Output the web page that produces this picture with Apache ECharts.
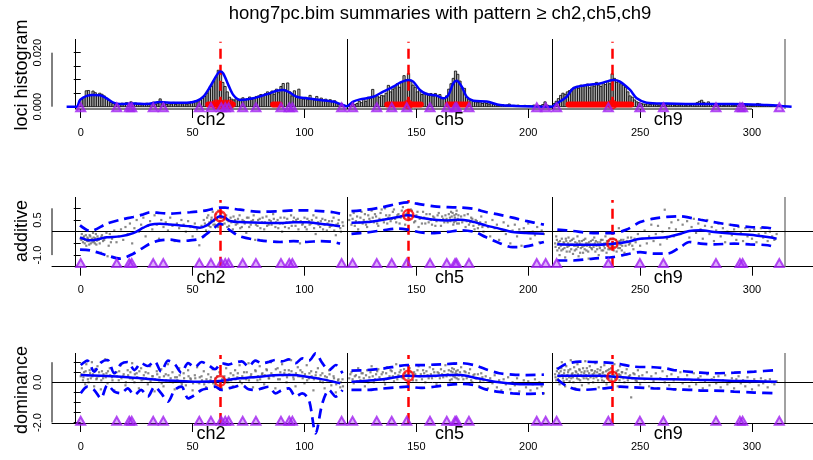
<!DOCTYPE html>
<html><head><meta charset="utf-8">
<script src="https://cdn.jsdelivr.net/npm/echarts@6/dist/echarts.min.js"></script>
<style>html,body{margin:0;padding:0;background:#fff}#c{width:813px;height:460px}</style>
</head><body><div id="c"></div>
<script>
// ---------------- data ----------------
const titleText = 'hong7pc.bim summaries with pattern \u2265 ch2,ch5,ch9';
const panelNames = ['loci histogram', 'additive', 'dominance'];
const xTicks = [0, 50, 100, 150, 200, 250, 300];
const chromNames = ['ch2', 'ch5', 'ch9'];
const chromMid = [58.2, 164.8, 262.6];
const chromBounds = [-2.5, 119.0, 210.6];
const chromEnd = 314.7;
const qtlPos = [62.3, 146.4, 237.6];
const markerPos = [0, 16.1, 21.7, 22.8, 32.4, 36.9, 53.0, 58.2, 62.8, 64.6, 66.1, 72.4, 78.3, 89.5, 93.2, 94.6, 116.6,
  121.5, 132.3, 139.0, 145.7, 156.1, 163.6, 167.3, 168.0, 173.5, 203.8, 207.8,
  212.7, 235.8, 249.9, 260.4, 283.9, 294.6, 295.8, 312.2];

// histogram: density (per mille) of 1 cM bins starting at histStart
const histStart = 0;
const histPermille = [
 2.8,3.5,5.9,6.0,4.5,5.8,5.2,4.4,5.0,4.6,
 4.0,3.2,2.4,1.6,1.2,0.8,1.0,0.9,1.3,0.8,
 1.5,1.1,1.8,0.9,1.4,1.0,1.2,0.7,1.0,1.3,
 0.8,1.1,1.7,0.9,1.2,2.9,1.0,1.5,0.8,1.2,
 1.0,1.6,0.9,1.3,1.1,0.7,1.4,1.0,1.2,1.8,
 1.5,2.2,1.8,2.5,3.2,3.8,5.0,6.5,7.5,9.5,
 11.0,13.5,12.8,9.0,7.5,5.5,3.5,2.8,2.5,3.0,
 2.2,2.8,3.3,2.5,3.0,3.6,2.7,3.2,3.8,4.0,
 4.5,4.2,4.8,5.5,4.5,5.8,4.6,6.5,5.2,7.5,
 8.6,6.2,8.8,5.5,4.0,5.9,3.8,6.5,3.2,2.8,
 3.5,2.6,4.2,3.0,2.5,3.8,2.2,3.2,2.4,2.8,
 2.0,2.6,1.8,2.2,1.4,1.0,1.2,0.6,0.3,0.4,
 1.0,1.4,0.8,1.2,2.0,1.5,2.8,2.0,3.5,3.0,
 6.4,3.8,4.0,3.5,4.2,4.0,5.0,7.9,5.5,6.5,
 7.0,8.5,7.2,9.0,11.5,10.0,12.3,9.5,8.0,7.2,
 5.5,6.0,4.5,4.8,5.0,4.2,4.9,4.0,4.9,3.8,
 4.5,3.2,3.0,4.0,6.5,8.5,10.5,13.2,12.0,9.5,
 7.0,6.8,3.5,3.0,2.5,2.0,1.8,1.5,1.8,1.2,
 1.5,1.2,1.0,1.4,0.8,1.0,0.6,0.5,0.8,0.4,
 0.6,1.0,0.4,0.5,0.3,0.6,0.4,0.2,0.5,0.3,
 0.4,0.3,0.6,0.2,0.5,0.4,0.8,1.8,0.6,0.3,
 0.2,1.2,2.0,3.0,4.2,5.0,4.6,5.5,6.0,6.5,
 7.2,7.5,6.8,8.0,7.5,7.8,8.4,7.0,8.2,7.6,
 9.0,8.0,7.5,8.8,8.2,9.3,8.5,12.2,10.5,9.0,
 9.5,8.5,8.0,7.2,5.5,4.0,3.5,2.5,1.8,1.5,
 1.2,1.0,0.9,1.2,0.8,1.0,0.7,0.9,0.6,1.0,
 0.8,0.6,1.0,0.7,0.9,0.5,0.8,0.6,0.7,0.9,
 0.6,0.8,0.5,1.0,1.2,1.5,2.0,2.4,1.6,1.2,
 1.8,0.9,1.0,0.7,0.8,0.6,0.9,0.5,0.7,0.6,
 0.8,0.6,0.5,1.2,1.0,1.3,0.7,0.5,0.6,0.4,
 0.5,0.8,1.2,1.0,0.6,0.4,0.5,0.6,0.3,0.5,
 0.4,0.6,0.3,0.2];

const densityCM = [-6.3,-1.8,-0.3,2.7,5.6,8.6,11.6,14.6,17.6,23.5,29.5,35.4,41.4,47.4,51.8,54.8,57.8,60.8,62.3,63.7,66,68.2,71.2,77.1,83.1,87.6,90.5,93.5,96.5,101,107,112.9,115.9,118.9,
  121.8,124.8,130.8,135.2,139.7,142.7,146.4,148.6,151.6,154.6,159.1,162,164.3,166.5,168,170.3,172.5,175.5,181.4,187.4,195,202.3,210.5,
  212.7,217.2,220.1,226.1,232.1,238,241,245.5,248.5,252.9,261.9,276.8,291.6,306.6,313,317.7];
const densityVal = [0,0,0.0025,0.004,0.0043,0.0042,0.0031,0.0015,0.001,0.0012,0.001,0.0017,0.0015,0.0015,0.0021,0.0037,0.0074,0.0117,0.013,0.0123,0.008,0.0043,0.0025,0.0031,0.0046,0.0059,0.0062,0.0052,0.0037,0.0031,0.0025,0.0019,0.001,0.0002,
  0.0019,0.0027,0.0037,0.0056,0.0074,0.0089,0.0099,0.0093,0.0062,0.0047,0.0041,0.0031,0.0043,0.0086,0.0096,0.0074,0.0037,0.0022,0.0019,0.0006,0.0003,0.0001,0,
  0.0012,0.0037,0.0068,0.008,0.0086,0.0099,0.0093,0.0062,0.0031,0.0015,0.0012,0.001,0.001,0.0006,0.0003,0];

const histRedRanges = [[57,68],[86,89],[137,152],[164,173],[218,246]];
const histRedCircles = [60.5, 62.3, 64.5, 66.5, 146.4, 237.6];

// additive effects
const addCh2CM = [-0.3,4.2,11.6,17.6,23.5,28,31,35.4,39.9,44.4,48.9,53.3,56.3,59.3,62.3,64.5,66.7,71.2,80.2,89.1,95.1,101,107,112.9,115.9];
const addCh2Mean = [-0.24,-0.37,-0.24,-0.2,-0.06,0.17,0.3,0.34,0.31,0.27,0.23,0.17,0.27,0.48,0.66,0.6,0.46,0.41,0.38,0.37,0.4,0.4,0.34,0.28,0.23];
const addCh2Upper = [0.27,0.03,0.34,0.51,0.63,0.74,0.83,0.80,0.77,0.80,0.83,0.87,0.91,0.98,1.03,1.03,1.0,0.94,0.85,0.88,0.91,0.91,0.88,0.83,0.77];
const addCh2Lower = [-0.77,-0.80,-1.01,-1.15,-0.94,-0.68,-0.51,-0.37,-0.34,-0.40,-0.37,-0.30,-0.09,0.13,0.34,0.23,0.06,-0.2,-0.37,-0.44,-0.40,-0.44,-0.40,-0.44,-0.51];
const addCh5CM = [121,128,135,142,146,152,158,164,170,176,181,187,193,199,207];
const addCh5Mean = [0.38,0.41,0.51,0.63,0.70,0.60,0.51,0.48,0.51,0.41,0.27,0.13,-0.01,-0.06,-0.09];
const addCh5Upper = [0.88,0.94,1.05,1.20,1.25,1.17,1.08,1.05,1.03,0.97,0.84,0.73,0.60,0.46,0.30];
const addCh5Lower = [-0.09,-0.03,0.06,0.13,0.09,-0.03,-0.06,-0.01,0.06,-0.01,-0.23,-0.48,-0.66,-0.63,-0.44];
const addCh9CM = [213,220,229,238,244,250,256,262,268,272,277,283,292,299,307,311];
const addCh9Mean = [-0.54,-0.56,-0.56,-0.51,-0.44,-0.30,-0.27,-0.23,-0.09,0.03,0.06,-0.01,-0.09,-0.13,-0.23,-0.30];
const addCh9Upper = [0.09,0.03,-0.06,-0.06,0.09,0.41,0.56,0.63,0.66,0.60,0.51,0.41,0.27,0.20,0.17,0.09];
const addCh9Lower = [-1.23,-1.23,-1.15,-1.08,-0.97,-0.87,-0.94,-0.94,-0.66,-0.44,-0.51,-0.54,-0.51,-0.54,-0.58,-0.68];
const addPeaks = [[62.3,0.66],[146.4,0.71],[237.6,-0.51]];
const addDots = [
[0,-0.3],[0.5,-0.1],[1,-0.45],[1.5,-0.2],[2,-0.35],[2.5,-0.6],[3,-0.25],[3.5,-0.4],[4,-0.15],[4.5,-0.5],[5,-0.3],[5.5,-0.05],[6,-0.42],[6.5,-0.28],[7,-0.55],[7.5,-0.2],[8,-0.35],[9,-0.9],[9.5,-0.15],[10,-0.4],[11,-0.25],[12,-1.05],[12.5,-0.6],[13,-0.1],[14,-0.3],[15,0.05],[16,-0.45],[17,-0.2],[18,0.1],[19,-0.35],[20,0.2],[21,-0.1],[22,0.35],[23,-0.5],[24,0.15],[25,0.5],[26,0.0],[27,0.3],[28,0.6],[29,-0.2],[30,0.25],[31,0.45],[32,0.1],[33,0.7],[34,0.3],[35,-0.3],[36,0.5],[37,0.2],[38,0.4],[39,0.05],[40,0.6],[41,0.25],[42,-0.4],[43,0.35],[44,0.15],[45,0.5],[46,0.3],[47,0.0],[48,0.45],[49,0.2],[50,-0.2],[51,0.35],[52,0.1],[53,-0.58],[54,0.25],[55,0.5],[56,0.05],[57,0.7],[57.5,0.4],[58,0.2],[58.5,0.6],[59,0.85],[59.5,0.45],[60,0.3],[60.5,0.75],[61,0.55],[61.5,0.9],[62,0.4],[62.5,0.65],[63,0.8],[63.5,0.3],[64,0.55],[65,0.7],[65.5,0.2],[66,0.45],[67,0.6],[68,0.1],[69,0.5],[70,0.35],[71,0.7],[72,0.2],[73,0.45],[74,-0.05],[75,0.6],[76,0.3],[77,0.5],[78,-0.35],[79,0.25],[80,0.55],[81,0.4],[82,0.1],[83,0.65],[84,0.3],[85,0.45],[86,0.75],[87,0.2],[88,0.5],[89,0.35],[90,0.0],[91,0.6],[92,0.4],[93,0.15],[94,0.7],[95,0.45],[96,0.25],[97,0.55],[98,-0.5],[99,0.3],[100,0.6],[101,0.1],[102,0.45],[103,0.35],[104,0.7],[105,-0.1],[106,0.4],[107,0.2],[108,0.55],[109,0.3],[110,0.05],[111,0.45],[112,0.25],[113,0.6],[114,-0.15],[115,0.35],[116,0.15],[117,0.4],
[120,0.5],[121,0.3],[122,0.8],[123,0.45],[124,0.1],[125,0.6],[126,0.35],[127,0.75],[128,0.2],[129,0.55],[130,0.9],[131,0.4],[132,0.65],[133,0.25],[134,0.8],[135,0.5],[136,1.0],[137,0.35],[138,0.7],[139,0.55],[140,0.95],[141,0.4],[142,0.75],[143,0.6],[144,1.05],[145,0.3],[146,0.8],[147,0.55],[148,0.9],[149,0.4],[150,0.7],[151,0.2],[152,0.6],[153,0.85],[154,0.35],[155,0.55],[156,0.75],[157,0.3],[158,0.6],[159,0.45],[160,0.8],[161,0.25],[162,0.55],[163,0.7],[164,0.4],[165,0.6],[165.5,0.85],[166,0.5],[166.5,0.3],[167,0.7],[167.5,0.45],[168,0.9],[168.5,0.55],[169,0.35],[170,0.65],[171,0.5],[172,0.2],[173,0.75],[174,0.4],[175,0.55],[176,0.1],[177,0.45],[178,0.3],[179,0.65],[180,0.0],[181,0.4],[182,0.2],[183,-0.2],[184,0.5],[185,0.15],[186,0.3],[187,-0.35],[188,0.1],[189,0.4],[190,-0.1],[191,0.25],[192,-0.5],[193,0.05],[194,0.3],[195,-0.2],[196,0.1],[197,-0.6],[198,0.15],[199,-0.05],[200,0.35],[201,-0.3],[202,0.0],[203,-0.15],[204,0.2],[205,-0.45],[206,0.05],[207,-0.1],
[212,-0.5],[212.5,-0.2],[213,-0.8],[213.5,-0.45],[214,-1.0],[214.5,-0.6],[215,-0.3],[215.5,-0.75],[216,-0.5],[216.5,-1.1],[217,-0.4],[217.5,-0.65],[218,-0.25],[218.5,-0.85],[219,-0.55],[219.5,-0.35],[220,-0.95],[220.5,-0.6],[221,-0.45],[221.5,-0.75],[222,-0.2],[222.5,-1.05],[223,-0.5],[223.5,-0.7],[224,-0.4],[224.5,-0.9],[225,-0.6],[225.5,-0.3],[226,-0.8],[226.5,-0.5],[227,-1.15],[227.5,-0.65],[228,-0.4],[228.5,-0.75],[229,-0.55],[229.5,-0.25],[230,-0.85],[230.5,-0.6],[231,-0.45],[231.5,-1.0],[232,-0.7],[232.5,-0.35],[233,-0.55],[233.5,-0.8],[234,-0.5],[234.5,-0.2],[235,-0.9],[235.5,-0.6],[236,-0.4],[236.5,-0.75],[237,-0.55],[237.5,-1.1],[238,-0.3],[238.5,-0.65],[239,-0.5],[239.5,-0.85],[240,-0.45],[240.5,0.15],[241,-0.7],[241.5,-0.35],[242,-0.6],[243,-0.9],[244,-0.4],[245,-0.55],[246,-0.25],[247,-0.75],[248,-0.45],[249,-0.1],[250,-0.6],[251,-0.3],[252,0.05],[253,-0.5],[254,-0.2],[255,0.3],[256,-0.4],[257,-0.1],[258,0.25],[259,-0.55],[260,0.0],[261,0.94],[262,-0.3],[263,0.15],[264,0.4],[265,-0.2],[266,0.1],[267,0.5],[268,-0.1],[269,0.3],[270,0.0],[271,0.45],[272,-0.25],[273,0.2],[274,0.55],[275,-0.05],[276,0.35],[277,0.1],[278,-0.3],[279,0.25],[280,0.5],[281,-0.1],[282,0.2],[283,-0.4],[284,0.05],[285,0.35],[286,-0.2],[287,0.15],[288,-0.45],[289,0.0],[290,0.3],[291,-0.15],[292,0.1],[293,-0.35],[294,0.2],[295,-0.05],[296,-0.4],[297,0.15],[298,-0.2],[299,0.05],[300,-0.3],[301,0.1],[302,-0.45],[303,-0.1],[304,0.15],[305,-0.25],[306,-0.05],[307,-0.4],[308,0.0],[309,-0.2],[310,-0.35],[311,-0.1]];
const addDotsDense = [
[0.3,-0.35],[1.2,-0.25],[1.8,-0.5],[2.3,-0.15],[2.8,-0.4],[3.3,-0.3],[3.8,-0.55],[4.3,-0.2],[4.8,-0.35],[5.3,-0.45],[5.8,-0.25],[6.3,-0.5],[6.8,-0.1],[7.3,-0.38],[7.8,-0.3],[8.5,-0.5],[9.2,-0.22],[10.5,-0.35],[11.5,-0.05],[13.5,-0.45],
[55.5,0.35],[56.5,0.6],[57.3,0.25],[58.3,0.5],[59.3,0.3],[60.3,0.55],[61.3,0.2],[62.3,0.45],[63.3,0.6],[64.3,0.35],[65.3,0.5],[66.3,0.25],[67.3,0.4],[68.3,0.65],[69.3,0.3],[70.3,0.55],[71.3,0.15],[72.3,0.5],[73.3,0.35],[74.3,0.6],[75.3,0.2],[76.3,0.45],[77.3,0.7],[78.3,0.3],[79.3,0.5],[80.3,0.15],[81.3,0.6],[82.3,0.4],[83.3,0.25],[84.3,0.5],[85.3,0.3],[86.3,0.55],[87.3,0.4],[88.3,0.15],[89.3,0.6],[90.3,0.35],[91.3,0.2],[92.3,0.55],[93.3,0.4],[94.3,0.25],[95.3,0.6],[96.3,0.5],[97.3,0.1],[98.3,0.45],[99.3,0.35],[100.3,0.2],[101.3,0.55],[102.3,0.3],[103.3,0.5],[104.3,0.15],[105.3,0.6],[106.3,0.3],[107.3,0.45],[108.3,0.1],[109.3,0.5],[110.3,0.35],[111.3,0.2],[112.3,0.45],[113.3,0.05],[114.3,0.3],[115.3,0.5],[116.3,0.0],[117.3,0.25],
[120.5,0.7],[121.5,0.55],[122.5,0.25],[123.5,0.65],[124.5,0.4],[125.5,0.85],[126.5,0.5],[127.5,0.3],[128.5,0.7],[129.5,0.45],[130.5,0.6],[131.5,0.75],[132.5,0.35],[133.5,0.55],[134.5,0.95],[135.5,0.4],[136.5,0.7],[137.5,0.6],[138.5,0.45],[139.5,0.85],[140.5,0.55],[141.5,0.7],[142.5,0.35],[143.5,0.9],[144.5,0.6],[145.5,0.75],[146.5,0.5],[147.5,0.95],[148.5,0.65],[149.5,0.45],[150.5,0.85],[151.5,0.55],[152.5,0.35],[153.5,0.6],[154.5,0.75],[155.5,0.4],[156.5,0.5],[157.5,0.65],[158.5,0.25],[159.5,0.7],[160.5,0.5],[161.5,0.65],[162.5,0.4],[163.5,0.55],[164.5,0.75],[165.2,0.45],[165.8,0.65],[166.2,0.8],[166.8,0.4],[167.2,0.6],[167.8,0.75],[168.2,0.35],[168.8,0.7],[169.5,0.5],[170.5,0.4],[171.5,0.7],[172.5,0.45],[173.5,0.3],[174.5,0.6],[175.5,0.25],[176.5,0.5],[177.5,0.15],[178.5,0.4],[179.5,0.2],
[212.2,-0.65],[212.8,-0.35],[213.2,-0.55],[213.8,-0.7],[214.2,-0.4],[214.8,-0.8],[215.2,-0.55],[215.8,-0.45],[216.2,-0.7],[216.8,-0.3],[217.2,-0.85],[217.8,-0.5],[218.2,-0.6],[218.8,-0.4],[219.2,-0.75],[219.8,-0.55],[220.2,-0.3],[220.8,-0.8],[221.2,-0.6],[221.8,-0.5],[222.2,-0.65],[222.8,-0.4],[223.2,-0.9],[223.8,-0.55],[224.2,-0.65],[224.8,-0.35],[225.2,-0.75],[225.8,-0.5],[226.2,-0.6],[226.8,-0.85],[227.2,-0.45],[227.8,-0.55],[228.2,-0.7],[228.8,-0.35],[229.2,-0.65],[229.8,-0.5],[230.2,-0.4],[230.8,-0.75],[231.2,-0.55],[231.8,-0.6],[232.2,-0.45],[232.8,-0.8],[233.2,-0.35],[233.8,-0.6],[234.2,-0.7],[234.8,-0.5],[235.2,-0.4],[235.8,-0.75],[236.2,-0.55],[236.8,-0.3],[237.2,-0.65],[237.8,-0.45],[238.2,-0.8],[238.8,-0.5],[239.2,-0.35],[239.8,-0.6],[240.2,-0.7],[240.8,-0.4],[241.2,-0.55],[241.8,-0.8],[242.5,-0.35],[243.5,-0.6],[244.5,-0.25],[245.5,-0.5],[246.5,-0.6],[247.5,-0.3]];

// dominance effects
const domCh2CM = [0,9,18,27,35,44,53,62,71,80,89,95,101,107,113,116];
const domCh2Mean = [0.36,0.33,0.28,0.20,0.12,0.07,0.03,0.07,0.20,0.28,0.36,0.36,0.28,0.17,0.03,-0.05];
const domCh2BandCM = [0,3,6,9,12,15,18,21,24,27,30,33,36,39,42,45,48,51,54,57,60,63,66,69,72,75,78,81,84,87,90,93,96,99,102,105,108,111,114,117];
const domCh2Upper = [0.86,1.08,0.53,0.98,1.11,0.45,0.91,1.01,0.61,0.95,0.81,1.04,0.53,1.08,0.91,0.48,0.95,0.75,1.01,0.86,0.65,0.95,0.88,0.98,1.04,0.78,1.08,0.95,1.01,1.11,1.04,1.14,0.95,1.19,1.08,1.44,0.95,0.61,0.86,0.45];
const domCh2Lower = [-0.55,-0.22,-0.38,-0.80,-0.13,-0.46,-0.55,-0.30,-0.63,-0.38,-0.71,-0.22,-0.55,-0.96,-0.38,-0.22,-0.80,-0.63,-0.38,-0.30,-0.22,-0.38,-0.30,-0.22,-0.13,-0.35,-0.38,-0.30,-0.22,-0.55,-0.38,-0.30,-0.71,-0.55,-0.88,-2.54,-1.04,-0.38,-0.71,-0.38];
const domCh5CM = [121,128,135,142,146,152,158,164,170,176,181,187,193,199,207];
const domCh5Mean = [0.03,0.08,0.15,0.28,0.32,0.30,0.32,0.36,0.36,0.23,0.12,0.0,-0.07,-0.10,-0.10];
const domCh5Upper = [0.58,0.61,0.68,0.81,0.86,0.85,0.88,0.91,0.95,0.85,0.65,0.45,0.38,0.36,0.38];
const domCh5Lower = [-0.38,-0.38,-0.31,-0.25,-0.22,-0.28,-0.22,-0.13,-0.08,-0.15,-0.35,-0.48,-0.55,-0.58,-0.55];
const domCh9CM = [213,217,223,232,238,241,247,256,262,265,274,277,283,292,301,311];
const domCh9Mean = [0.32,0.32,0.32,0.32,0.28,0.27,0.20,0.17,0.15,0.15,0.13,0.12,0.10,0.07,0.05,0.03];
const domCh9Upper = [0.65,0.91,1.03,1.00,0.95,0.91,0.78,0.75,0.68,0.61,0.50,0.48,0.45,0.48,0.53,0.61];
const domCh9Lower = [0.15,-0.18,-0.38,-0.32,-0.25,-0.22,-0.25,-0.30,-0.32,-0.35,-0.38,-0.41,-0.41,-0.46,-0.51,-0.55];
const domPeaks = [[62.3,0.07],[146.4,0.32],[237.6,0.28]];
const domDots = [
[0,0.3],[0.5,0.7],[1,0.1],[1.5,0.5],[2,-0.1],[2.5,0.9],[3,0.35],[3.5,0.0],[4,0.6],[4.5,0.2],[5,1.0],[5.5,0.4],[6,-0.2],[6.5,0.65],[7,0.15],[7.5,0.8],[8,0.3],[9,-0.35],[9.5,0.55],[10,0.2],[11,1.15],[11.5,0.45],[12,-0.05],[13,0.7],[14,0.25],[15,-0.4],[16,0.5],[17,0.1],[18,0.85],[19,0.3],[20,-0.15],[21,0.6],[22,0.2],[23,0.95],[24,0.0],[25,0.45],[26,-0.3],[27,0.7],[28,0.15],[29,0.5],[30,-0.1],[31,0.8],[32,0.3],[33,-0.45],[34,0.55],[35,0.1],[36,0.65],[37,-0.2],[38,0.4],[39,0.9],[40,0.05],[41,0.5],[42,-0.35],[43,0.25],[44,0.7],[45,0.0],[46,0.45],[47,-0.15],[48,0.6],[49,0.2],[50,-0.4],[51,0.35],[52,0.75],[53,-0.05],[54,0.3],[55,0.55],[56,-0.25],[57,0.4],[58,0.1],[59,0.65],[60,-0.1],[61,0.3],[62,0.5],[63,-0.3],[64,0.2],[65,0.7],[66,0.0],[67,0.45],[68,-0.2],[69,0.6],[70,0.25],[71,0.85],[72,-0.05],[73,0.5],[74,0.15],[75,0.95],[76,0.3],[77,-0.25],[78,0.6],[79,0.1],[80,0.8],[81,0.4],[82,-0.1],[83,0.65],[84,0.2],[85,1.0],[86,0.35],[87,-0.3],[88,0.7],[89,0.15],[90,0.9],[91,0.45],[92,0.0],[93,0.6],[94,1.1],[95,0.25],[96,-0.2],[97,0.75],[98,0.3],[99,0.5],[100,-0.05],[101,0.85],[102,0.2],[103,0.55],[104,-0.4],[105,0.35],[106,0.7],[107,0.05],[108,0.45],[109,-0.3],[110,0.25],[111,0.6],[112,-0.15],[113,0.3],[114,-0.5],[115,0.1],[116,-0.25],[117,0.15],
[120,0.2],[121,0.5],[122,-0.05],[123,0.35],[124,0.7],[125,0.1],[126,0.45],[127,-0.2],[128,0.6],[129,0.25],[130,0.8],[131,0.0],[132,0.4],[133,0.65],[134,0.15],[135,0.5],[136,-0.1],[137,0.75],[138,0.3],[139,0.55],[140,0.05],[141,0.9],[142,0.35],[143,0.6],[144,0.2],[145,0.45],[146,-0.05],[147,0.7],[148,0.3],[149,0.5],[150,0.1],[151,0.8],[152,0.4],[153,0.6],[154,0.0],[155,0.35],[156,0.75],[157,0.2],[158,0.5],[159,-0.1],[160,0.45],[161,0.65],[162,0.25],[163,0.85],[164,0.4],[165,0.1],[165.5,0.55],[166,0.7],[166.5,0.3],[167,0.95],[167.5,0.45],[168,0.2],[168.5,0.6],[169,0.35],[170,0.75],[171,0.15],[172,0.5],[173,0.3],[174,0.65],[175,0.0],[176,0.4],[177,0.2],[178,-0.2],[179,0.45],[180,0.1],[181,0.3],[182,-0.3],[183,0.2],[184,-0.05],[185,0.35],[186,-0.25],[187,0.1],[188,-0.4],[189,0.15],[190,-0.1],[191,0.25],[192,-0.35],[193,0.0],[194,-0.15],[195,0.2],[196,-0.45],[197,-0.05],[198,0.1],[199,-0.25],[200,0.05],[201,-0.4],[202,-0.1],[203,0.15],[204,-0.3],[205,0.0],[206,-0.2],[207,-0.55],
[212,0.4],[212.5,0.1],[213,0.7],[213.5,0.3],[214,-0.1],[214.5,0.55],[215,1.0],[215.5,0.2],[216,0.45],[216.5,-0.2],[217,0.8],[217.5,0.35],[218,0.6],[218.5,0.05],[219,1.1],[219.5,0.4],[220,0.25],[220.5,0.75],[221,-0.3],[221.5,0.5],[222,0.9],[222.5,0.15],[223,0.6],[223.5,0.35],[224,-0.15],[224.5,0.7],[225,0.45],[225.5,1.05],[226,0.2],[226.5,0.55],[227,-0.05],[227.5,0.8],[228,0.3],[228.5,0.6],[229,0.0],[229.5,0.45],[230,0.95],[230.5,0.25],[231,0.65],[231.5,-0.25],[232,0.4],[232.5,0.75],[233,0.1],[233.5,0.5],[234,0.85],[234.5,0.3],[235,-0.1],[235.5,0.6],[236,0.2],[236.5,0.45],[237,0.7],[237.5,0.05],[238,0.35],[238.5,0.9],[239,0.15],[239.5,0.55],[240,-0.2],[240.5,0.4],[241,0.8],[241.5,0.25],[242,0.5],[243,0.0],[244,0.65],[245,0.3],[246,-0.75],[247,0.45],[248,0.1],[249,0.6],[250,-0.1],[251,0.35],[252,0.15],[253,0.5],[254,-0.2],[255,0.3],[256,0.05],[257,0.45],[258,-0.3],[259,0.2],[260,0.55],[261,0.0],[262,0.3],[263,-0.15],[264,0.4],[265,0.1],[266,-0.35],[267,0.25],[268,0.5],[269,-0.05],[270,0.15],[271,0.35],[272,-0.2],[273,0.1],[274,0.45],[275,-0.1],[276,0.2],[277,0.3],[278,-0.3],[279,0.05],[280,0.4],[281,-0.15],[282,0.15],[283,0.25],[284,-0.05],[285,0.3],[286,-0.25],[287,0.1],[288,0.35],[289,-0.1],[290,0.0],[291,0.2],[292,-0.3],[293,0.15],[294,0.3],[295,-0.05],[296,0.1],[297,-0.2],[298,0.25],[299,0.0],[300,-0.35],[301,0.15],[302,0.05],[303,-0.15],[304,0.2],[305,-0.05],[306,0.1],[307,-0.25],[308,0.15],[309,0.0],[310,-0.1],[311,0.05]];
const domDotsDense = [
[0.3,0.4],[1.2,0.25],[2.2,0.55],[3.2,0.15],[4.2,0.45],[5.2,0.3],[6.2,0.6],[7.2,0.2],[8.2,0.5],[9.2,0.1],[10.2,0.4],[11.2,0.25],[12.2,0.55],[13.2,0.35],[14.2,0.1],[15.2,0.45],[16.2,0.3],[17.2,0.55],[18.2,0.2],[19.2,0.4],[20.2,0.0],[21.2,0.35],[22.2,0.5],[23.2,0.15],[24.2,0.4],[25.2,0.25],[26.2,0.55],[27.2,0.1],[28.2,0.35],[29.2,0.2],[30.2,0.45],[31.2,0.05],[32.2,0.3],[33.2,0.15],[34.2,0.4],[35.2,0.25],[36.2,-0.05],[37.2,0.3],[38.2,0.1],[39.2,0.35],[40.2,0.2],[41.2,0.0],[42.2,0.25],[43.2,0.1],[44.2,0.35],[45.2,-0.1],[46.2,0.2],[47.2,0.05],[48.2,0.3],[49.2,0.15],[50.2,-0.05],[51.2,0.2],[52.2,0.0],[53.2,0.25],[54.2,0.1],[55.2,-0.1],[56.2,0.15],[57.2,0.0],[58.2,0.25],[59.2,-0.05],[60.2,0.2],[61.2,0.05],[62.2,-0.1],[63.2,0.15],[64.2,0.3],[65.2,0.0],[66.2,0.2],[67.2,0.1],[68.2,0.35],[69.2,0.15],[70.2,0.45],[71.2,0.05],[72.2,0.3],[73.2,0.2],[74.2,0.5],[75.2,0.1],[76.2,0.4],[77.2,0.25],[78.2,0.55],[79.2,0.3],[80.2,0.15],[81.2,0.45],[82.2,0.35],[83.2,0.6],[84.2,0.2],[85.2,0.45],[86.2,0.3],[87.2,0.65],[88.2,0.15],[89.2,0.5],[90.2,0.35],[91.2,0.6],[92.2,0.25],[93.2,0.4],[94.2,0.55],[95.2,0.15],[96.2,0.45],[97.2,0.3],[98.2,0.6],[99.2,0.2],[100.2,0.4],[101.2,0.1],[102.2,0.45],[103.2,0.3],[104.2,0.15],[105.2,0.5],[106.2,0.2],[107.2,0.35],[108.2,0.0],[109.2,0.3],[110.2,0.1],[111.2,0.4],[112.2,0.05],[113.2,0.2],[114.2,-0.1],[115.2,0.15],[116.2,0.0],[117.2,-0.2],
[120.5,0.4],[121.5,0.15],[122.5,0.3],[123.5,0.05],[124.5,0.25],[125.5,0.45],[126.5,0.2],[127.5,0.35],[128.5,0.0],[129.5,0.5],[130.5,0.3],[131.5,0.15],[132.5,0.55],[133.5,0.25],[134.5,0.4],[135.5,0.1],[136.5,0.45],[137.5,0.2],[138.5,0.6],[139.5,0.3],[140.5,0.45],[141.5,0.15],[142.5,0.5],[143.5,0.25],[144.5,0.65],[145.5,0.35],[146.5,0.2],[147.5,0.5],[148.5,0.1],[149.5,0.4],[150.5,0.6],[151.5,0.3],[152.5,0.15],[153.5,0.45],[154.5,0.55],[155.5,0.2],[156.5,0.4],[157.5,0.65],[158.5,0.3],[159.5,0.5],[160.5,0.2],[161.5,0.4],[162.5,0.55],[163.5,0.3],[164.5,0.6],[165.2,0.35],[165.8,0.15],[166.2,0.5],[166.8,0.65],[167.2,0.25],[167.8,0.55],[168.2,0.4],[168.8,0.15],[169.5,0.5],[170.5,0.3],[171.5,0.55],[172.5,0.2],[173.5,0.45],[174.5,0.1],[175.5,0.35],[176.5,0.2],[177.5,0.4],[178.5,0.05],[179.5,0.25],
[212.2,0.25],[212.8,0.55],[213.2,0.15],[213.8,0.45],[214.2,0.3],[214.8,0.7],[215.2,0.35],[215.8,0.05],[216.2,0.6],[216.8,0.3],[217.2,0.15],[217.8,0.5],[218.2,0.25],[218.8,0.65],[219.2,0.2],[219.8,0.45],[220.2,0.0],[220.8,0.35],[221.2,0.55],[221.8,0.2],[222.2,0.4],[222.8,0.65],[223.2,0.1],[223.8,0.5],[224.2,0.3],[224.8,0.2],[225.2,0.55],[225.8,0.35],[226.2,0.7],[226.8,0.15],[227.2,0.45],[227.8,0.25],[228.2,0.6],[228.8,0.4],[229.2,0.2],[229.8,0.55],[230.2,0.3],[230.8,0.5],[231.2,0.1],[231.8,0.4],[232.2,0.6],[232.8,0.25],[233.2,0.45],[233.8,0.05],[234.2,0.35],[234.8,0.55],[235.2,0.2],[235.8,0.4],[236.2,0.65],[236.8,0.3],[237.2,0.15],[237.8,0.5],[238.2,0.35],[238.8,0.2],[239.2,0.45],[239.8,0.3],[240.2,0.6],[240.8,0.1],[241.2,0.35],[241.8,0.5],[242.5,0.2],[243.5,0.45],[244.5,0.1],[245.5,0.35],[246.5,0.2],[247.5,0.4],[248.5,0.05],[249.5,0.3]];

// y axes: ticks and shown labels
const histYTicks = [0, 0.005, 0.01, 0.015, 0.02];
const histYLabels = [[0, '0.000'], [0.02, '0.020']];
const addYTicks = [-1, -0.5, 0, 0.5, 1];
const addYLabels = [[-1, '-1.0'], [0.5, '0.5']];
const domYTicks = [-2, -1.5, -1, -0.5, 0, 0.5, 1];
const domYLabels = [[-2, '-2.0'], [0, '0.0']];

// ---------------- layout / style ----------------
const FONT = '"Liberation Sans", Arial, Helvetica, sans-serif';
const X_MIN = -12.83, X_MAX = 327.26;
const BLUE = '#0000FF', RED = '#FF0000', PURPLE = '#A020F0', DOT = '#6a6a6a';
const panels = [
  {top: 39, height: 70, yMin: -0.000852, yMax: 0.025074, ticks: histYTicks, labels: histYLabels, markerY: -0.0002, qtlTop: 0.02407, qtlBot: 0},
  {top: 197, height: 69.7, yMin: -1.496, yMax: 1.483, ticks: addYTicks, labels: addYLabels, markerY: -1.34, qtlTop: 1.355, qtlBot: -1.496},
  {top: 353, height: 70, yMin: -2.025, yMax: 1.458, ticks: domYTicks, labels: domYLabels, markerY: -1.92, qtlTop: 1.36, qtlBot: -2.025}
];
const pairs = (xs, ys) => xs.map((x, i) => [x, ys[i]]);

const chart = echarts.init(document.getElementById('c'), null, {renderer: 'canvas', width: 813, height: 460});

const grid = panels.map(p => ({left: 52, right: 0, top: p.top, height: p.height}));
const xAxis = panels.map((p, i) => ({
  type: 'value', gridIndex: i, min: X_MIN, max: X_MAX,
  axisLine: {show: i > 0, onZero: false, lineStyle: {color: '#000', width: 1}},
  axisTick: {show: true, customValues: xTicks, length: 9, lineStyle: {color: '#000', width: 1}},
  axisLabel: {show: true, customValues: xTicks, color: '#000', fontSize: 11, fontFamily: FONT, margin: 18},
  splitLine: {show: false}
}));
const yAxis = panels.map((p, i) => ({
  type: 'value', gridIndex: i, min: p.yMin, max: p.yMax,
  axisLine: {show: false},
  axisTick: {show: true, customValues: p.ticks, length: 7, lineStyle: {color: '#000', width: 1}},
  axisLabel: {show: false},
  splitLine: {show: false}
}));

const series = [];
function line(i, data, style, extra) {
  series.push(Object.assign({type: 'line', xAxisIndex: i, yAxisIndex: i, data: data, showSymbol: false, symbol: 'none',
    lineStyle: style, silent: true, z: 4}, extra || {}));
}

// histogram bars
series.push({
  type: 'custom', xAxisIndex: 0, yAxisIndex: 0, z: 2, silent: true,
  data: histPermille.map((h, k) => [histStart + k, h / 1000]),
  renderItem: function (params, api) {
    const x0 = api.value(0), v = api.value(1);
    const p0 = api.coord([x0, 0]), p1 = api.coord([x0 + 1, v]);
    return {type: 'rect', shape: {x: p0[0], y: p1[1], width: p1[0] - p0[0], height: p0[1] - p1[1]},
      style: {fill: '#b4b4b4', stroke: '#000000', lineWidth: 0.8}};
  }
});
// density curve
line(0, pairs(densityCM, densityVal), {color: BLUE, width: 2.5}, {smooth: 0.3, z: 5});
// red loci bands
histRedRanges.forEach(r => line(0, [[r[0], 0.0008], [r[1], 0.0008]], {color: RED, width: 6, cap: 'round'}, {z: 6}));
series.push({type: 'scatter', xAxisIndex: 0, yAxisIndex: 0, z: 7, silent: true, symbol: 'circle', symbolSize: 8,
  data: histRedCircles.map(x => [x, 0.0008]),
  itemStyle: {color: 'rgba(0,0,0,0)', borderColor: RED, borderWidth: 2}});
// histogram x axis line
line(0, [[chromBounds[0], panels[0].yMin], [300, panels[0].yMin]], {color: '#000', width: 1}, {clip: false});

// effect panels
const effects = [
  {i: 1, dots: addDots.concat(addDotsDense), peaks: addPeaks, chr: [
    [addCh2CM, addCh2Mean, addCh2CM, addCh2Upper, addCh2Lower],
    [addCh5CM, addCh5Mean, addCh5CM, addCh5Upper, addCh5Lower],
    [addCh9CM, addCh9Mean, addCh9CM, addCh9Upper, addCh9Lower]]},
  {i: 2, dots: domDots.concat(domDotsDense), peaks: domPeaks, chr: [
    [domCh2CM, domCh2Mean, domCh2BandCM, domCh2Upper, domCh2Lower],
    [domCh5CM, domCh5Mean, domCh5CM, domCh5Upper, domCh5Lower],
    [domCh9CM, domCh9Mean, domCh9CM, domCh9Upper, domCh9Lower]]}
];
effects.forEach(e => {
  series.push({type: 'scatter', xAxisIndex: e.i, yAxisIndex: e.i, z: 2, silent: true, symbol: 'rect', symbolSize: 2.2,
    data: e.dots, itemStyle: {color: DOT}});
  e.chr.forEach(c => {
    line(e.i, pairs(c[0], c[1]), {color: BLUE, width: 2.5}, {smooth: 0.3, z: 5});
    line(e.i, pairs(c[2], c[3]), {color: BLUE, width: 2.7, type: [10, 6]}, {smooth: 0.3, z: 5, clip: false});
    line(e.i, pairs(c[2], c[4]), {color: BLUE, width: 2.7, type: [10, 6]}, {smooth: 0.3, z: 5, clip: false});
  });
  series.push({type: 'scatter', xAxisIndex: e.i, yAxisIndex: e.i, z: 8, silent: true, symbol: 'circle', symbolSize: 10,
    data: e.peaks, itemStyle: {color: 'rgba(0,0,0,0)', borderColor: RED, borderWidth: 2.5}});
});

panels.forEach((p, i) => {
  // markers (purple triangles)
  series.push({type: 'scatter', xAxisIndex: i, yAxisIndex: i, z: 7, silent: true, symbol: 'triangle', symbolSize: [9, 8],
    data: markerPos.map(x => [x, p.markerY]),
    itemStyle: {color: 'rgba(160,32,240,0.45)', borderColor: PURPLE, borderWidth: 2}});
  // y axis line (from first to last tick)
  line(i, [[X_MIN, p.ticks[0]], [X_MIN, p.ticks[p.ticks.length - 1]]], {color: '#000', width: 1}, {clip: false});
  // chromosome boundaries, qtl lines, zero line
  const ml = chromBounds.map(x => ({xAxis: x, lineStyle: {color: '#000', width: 1, type: 'solid'}}));
  ml.push({xAxis: chromEnd, lineStyle: {color: '#8a8a8a', width: 1.6, type: 'solid'}});
  if (i > 0) ml.push({yAxis: 0, lineStyle: {color: '#000', width: 1, type: 'solid'}});
  qtlPos.forEach(x => ml.push([{coord: [x, p.qtlBot], lineStyle: {color: RED, width: 2.5, type: [10, 6]}}, {coord: [x, p.qtlTop]}]));
  series.push({type: 'line', xAxisIndex: i, yAxisIndex: i, z: 6, silent: true, data: [[X_MIN, 0]], showSymbol: false,
    lineStyle: {opacity: 0}, markLine: {silent: true, symbol: ['none', 'none'], label: {show: false}, animation: false, data: ml}});
  // y tick labels
  series.push({type: 'custom', xAxisIndex: i, yAxisIndex: i, z: 9, silent: true, clip: false,
    data: p.labels.map(l => [X_MIN, l[0]]),
    renderItem: function (params, api) {
      const pt = api.coord([api.value(0), api.value(1)]);
      return {type: 'text', x: pt[0] - 14, y: pt[1], rotation: Math.PI / 2,
        style: {text: p.labels[params.dataIndex][1], font: '11px ' + FONT, fill: '#000',
          align: 'center', verticalAlign: 'middle', textAlign: 'center', textVerticalAlign: 'middle'}};
    }});
  // chromosome names
  series.push({type: 'custom', xAxisIndex: i, yAxisIndex: i, z: 9, silent: true, clip: false,
    data: chromMid.map(x => [x, p.yMin]),
    renderItem: function (params, api) {
      const pt = api.coord([api.value(0), api.value(1)]);
      return {type: 'text', x: pt[0], y: pt[1] + 11,
        style: {text: chromNames[params.dataIndex], font: '18px ' + FONT, fill: '#000',
          align: 'center', verticalAlign: 'middle', textAlign: 'center', textVerticalAlign: 'middle'}};
    }});
});

const panelTitleY = [75, 231, 390];
const graphic = [{type: 'text', x: 440, y: 14, style: {text: titleText, font: '18.5px ' + FONT, fill: '#000',
  align: 'center', verticalAlign: 'middle', textAlign: 'center', textVerticalAlign: 'middle'}}];
panelNames.forEach((n, i) => graphic.push({type: 'text', x: 22, y: panelTitleY[i], rotation: Math.PI / 2,
  style: {text: n, font: '18px ' + FONT, fill: '#000', align: 'center', verticalAlign: 'middle', textAlign: 'center', textVerticalAlign: 'middle'}}));

chart.setOption({
  animation: false,
  backgroundColor: '#ffffff',
  textStyle: {fontFamily: FONT},
  grid: grid, xAxis: xAxis, yAxis: yAxis, series: series, graphic: graphic
});
</script></body></html>
